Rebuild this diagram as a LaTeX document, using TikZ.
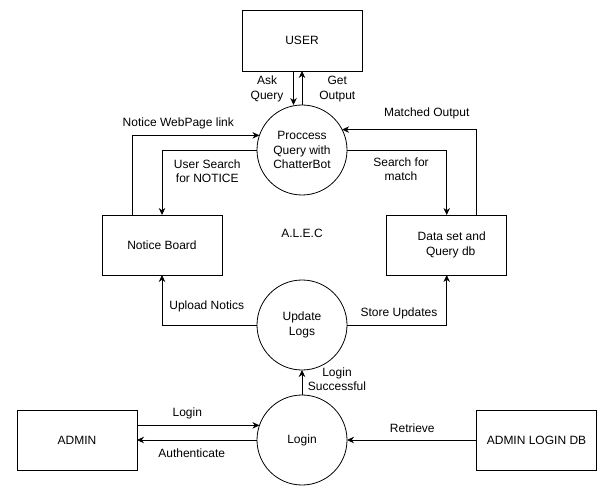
\documentclass[tikz,border=0pt]{standalone}
\usepackage{fontspec}
\setmainfont{Liberation Sans}
\usetikzlibrary{arrows.meta}
\begin{document}
\begin{tikzpicture}[x=1pt,y=-1pt,
  every node/.style={font=\fontsize{12}{14.5}\selectfont},
  box/.style={draw, line width=0.8pt, minimum width=120pt, minimum height=60pt, inner sep=0pt, outer sep=0pt, align=center},
  proc/.style={draw, circle, line width=0.8pt, minimum size=90pt, inner sep=0pt, outer sep=0pt, align=center},
  lbl/.style={align=center, inner sep=0pt},
  arr/.style={line width=0.8pt, -{Stealth[length=7pt,width=6.5pt]}}]
\useasboundingbox (0,0) rectangle (615,489);

% entities
\node[box, minimum height=61pt] (user) at (302,40.5) {USER};
\node[box] (nb) at (162,245) {Notice Board};
\node[box] (ds) at (446.7,245) {\hspace*{10pt}Data set and\\\hspace*{8pt}Query db};
\node[box] (admin) at (77,440) {ADMIN};
\node[box] (adb) at (536.5,440) {ADMIN LOGIN DB};

% processes
\node[proc] (proc) at (302,150) {Proccess\\Query with\\ChatterBot};
\node[proc] (upd) at (302,325) {Update\\Logs};
\node[proc] (login) at (302,440) {Login};

\node[lbl] (alec) at (302,233) {A.L.E.C};

% flows
\draw[arr] ([xshift=-8.5pt]user.south) -- ([xshift=-8.5pt]proc.north);
\draw[arr] (proc.north) -- (user.south);
\draw[arr] ([xshift=-30pt]nb.north) |- (proc.161.5);
\draw[arr] (proc.west) -| (nb.north);
\draw[arr] (proc.east) -| (ds.north);
\draw[arr] ([xshift=30pt]ds.north) |- (proc.27.8);
\draw[arr] (upd.west) -| (nb.south);
\draw[arr] (upd.east) -| (ds.south);
\draw[arr] (login.north) -- (upd.south);
\draw[arr] (admin.east |- login.161.5) -- (login.161.5);
\draw[arr] (login.west) -- (admin.east);
\draw[arr] (adb.west) -- (login.east);

% labels
\node[lbl] (lask) at (267,89) {Ask\\Query};
\node[lbl] (lget) at (337.3,89) {Get\\Output};
\node[lbl] (lweb) at (178.3,123.3) {Notice WebPage link};
\node[lbl] (lmatched) at (426.7,113.3) {Matched Output};
\node[lbl] (lsearchn) at (207.3,171) {User Search\\for NOTICE};
\node[lbl] (lsearchm) at (401,169) {Search for\\match};
\node[lbl] (lupload) at (206.7,306.7) {Upload Notics};
\node[lbl] (lstore) at (399,313.3) {Store Updates};
\node[lbl] (lsucc) at (337,379) {Login\\Successful};
\node[lbl] (llogin) at (187.3,413.3) {Login};
\node[lbl] (lauth) at (191.7,453.3) {Authenticate};
\node[lbl] (lret) at (412.3,428.3) {Retrieve};
\end{tikzpicture}
\end{document}
